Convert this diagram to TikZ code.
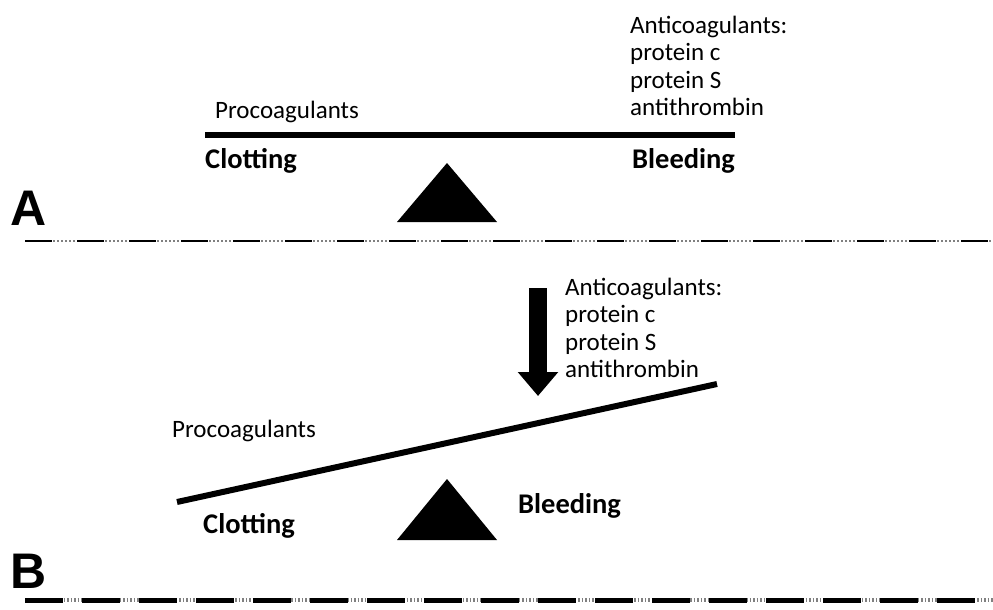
\documentclass[tikz,border=0pt]{standalone}
\usepackage{fontspec}
\setmainfont{Carlito}
\newfontfamily\panelfont{Liberation Sans}
\usetikzlibrary{arrows.meta}

\begin{document}
\begin{tikzpicture}[
		x=1pt,y=-1pt,
		plain/.style ={anchor=base west,inner sep=0pt,font=\fontsize{25}{27.5}\selectfont},
		side/.style  ={anchor=base west,inner sep=0pt,font=\fontsize{28.5}{30}\selectfont\bfseries},
		block/.style ={plain,align=left},
		panel/.style ={anchor=base west,inner sep=0pt,font=\fontsize{50}{50}\panelfont\bfseries},
		beam/.style  ={line width=6.5pt},
		pivot/.style ={fill=black},
		push/.style  ={line width=18pt,-{Triangle[length=24pt,width=39pt]}},
		sepline/.style={line width=2.5pt,dash pattern=on 27pt off 25pt},
		sepdots/.style={line width=1.5pt,gray,dash pattern=on 2pt off 2pt}
		]
		\useasboundingbox (0,0) rectangle (993,610);

		% =====================================================
		% Panel A: balanced scale
		% =====================================================

		% ---- beam ----
		\coordinate (beamA-w) at (205,135);
		\coordinate (beamA-e) at (735,135);
		\draw[beam] (beamA-w) -- (beamA-e);

		% ---- labels above and below the beam (block anchored at last line) ----
		\node[plain] (proA)   at (215,118) {Procoagulants};
		\node[block] (antiA)  at (630,115.5)
			{Anticoagulants:\\protein c\\protein S\\antithrombin};
		\node[side]  (clotA)  at (205,168) {Clotting};
		\node[side]  (bleedA) at (632,168) {Bleeding};

		% ---- fulcrum ----
		\fill[pivot] (397,222) -- (447,163) -- (497,222) -- cycle;

		% ---- panel letter and separator ----
		\node[panel] (letA) at (10,225) {A};
		\coordinate (sepA-w) at (25,241);
		\coordinate (sepA-e) at (993,241);
		\draw[sepdots] (sepA-w) -- (sepA-e);
		\draw[sepline] (sepA-w) -- (sepA-e);

		% =====================================================
		% Panel B: scale tipped towards clotting
		% =====================================================

		% ---- anticoagulants pushed down ----
		\node[block] (antiB) at (565,377.5)
			{Anticoagulants:\\protein c\\protein S\\antithrombin};
		\coordinate (pushB-top) at (538,288);
		\coordinate (pushB-tip) at (538,396);
		\draw[push] (pushB-top) -- (pushB-tip);

		% ---- tilted beam ----
		\coordinate (beamB-w) at (177,502);
		\coordinate (beamB-e) at (717,384);
		\draw[beam,line width=6pt] (beamB-w) -- (beamB-e);

		% ---- labels ----
		\node[plain] (proB)   at (172,437) {Procoagulants};
		\node[side]  (clotB)  at (203,533) {Clotting};
		\node[side]  (bleedB) at (518,513) {Bleeding};

		% ---- fulcrum ----
		\fill[pivot] (397,540) -- (447,479) -- (497,540) -- cycle;

		% ---- panel letter and bottom rule ----
		\node[panel] (letB) at (10,588) {B};
		\coordinate (sepB-w) at (25,600);
		\coordinate (sepB-e) at (993,600);
		\draw[sepdots,line width=4pt,dash pattern=on 1.5pt off 2pt] (sepB-w) -- (sepB-e);
		\draw[sepline,line width=5pt,dash pattern=on 38pt off 19pt] (sepB-w) -- (sepB-e);

	\end{tikzpicture}
\end{document}
